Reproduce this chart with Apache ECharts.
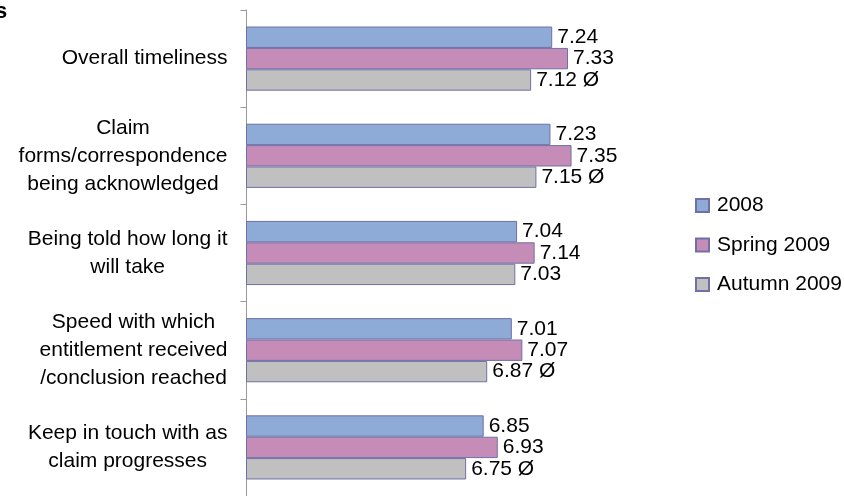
<!DOCTYPE html>
<html>
<head>
<meta charset="utf-8">
<script src="https://cdn.jsdelivr.net/npm/echarts@6/dist/echarts.min.js"></script>
<style>
html,body{margin:0;padding:0;background:#fff;}
#chart{width:844px;height:496px;}
</style>
</head>
<body>
<div id="chart"></div>
<script>
var categories = [
  'Overall timeliness',
  'Claim\nforms/correspondence\nbeing acknowledged',
  'Being told how long it\nwill take',
  'Speed with which\nentitlement received\n/conclusion reached',
  'Keep in touch with as\nclaim progresses'
];
var seriesNames = ['2008', 'Spring 2009', 'Autumn 2009'];
var values2008 = [7.24, 7.23, 7.04, 7.01, 6.85];
var valuesSpring2009 = [7.33, 7.35, 7.14, 7.07, 6.93];
var valuesAutumn2009 = [7.12, 7.15, 7.03, 6.87, 6.75];
var autumnMarks = ['Ø', 'Ø', '', 'Ø', 'Ø'];
var titleFragment = 's';

var FONT = '"Liberation Sans", Arial, sans-serif';
var colors = ['#8eabd8', '#c58cb8', '#c0c0c0'];
var border = '#7070a6';

function labelCfg(marks) {
  return {
    show: true,
    position: 'right',
    distance: 5,
    color: '#000',
    fontSize: 21,
    fontFamily: FONT,
    formatter: function (p) {
      var t = p.value.toFixed(2);
      if (marks && marks[p.dataIndex]) t += ' ' + marks[p.dataIndex];
      return t;
    }
  };
}

var allValues = [values2008, valuesSpring2009, valuesAutumn2009];
var series = allValues.map(function (vals, i) {
  return {
    name: seriesNames[i],
    type: 'bar',
    data: vals,
    barGap: '0%',
    barCategoryGap: '34%',
    itemStyle: { color: colors[i], borderColor: border, borderWidth: 1 },
    label: labelCfg(i === 2 ? autumnMarks : null),
    emphasis: { disabled: true },
    animation: false
  };
});

var chart = echarts.init(document.getElementById('chart'), null, { renderer: 'canvas' });
chart.setOption({
  animation: false,
  textStyle: { fontFamily: FONT },
  title: {
    text: titleFragment,
    left: -5,
    top: 1,
    padding: 0,
    textStyle: { fontSize: 22, fontWeight: 'bold', color: '#000', fontFamily: FONT }
  },
  grid: { left: 246.5, top: 10, width: 351.4, height: 492, containLabel: false },
  xAxis: {
    type: 'value',
    min: 5.5,
    max: 7.5,
    show: false
  },
  yAxis: {
    type: 'category',
    data: categories,
    inverse: true,
    axisLine: { show: true, lineStyle: { color: '#999', width: 1 } },
    axisTick: { show: true, length: 6, lineStyle: { color: '#999' } },
    axisLabel: {
      margin: 19,
      color: '#000',
      fontSize: 21,
      fontFamily: FONT,
      lineHeight: 28,
      align: 'right',
      formatter: function (v) {
        return v.split('\n').map(function (l) { return '{c|' + l + '}'; }).join('\n');
      },
      rich: {
        c: { align: 'center', fontSize: 21, lineHeight: 28, color: '#000', fontFamily: FONT }
      }
    }
  },
  legend: {
    orient: 'vertical',
    left: 695,
    top: 195,
    padding: 0,
    itemWidth: 13,
    itemHeight: 13,
    itemGap: 18.5,
    icon: 'rect',
    selectedMode: false,
    textStyle: { fontSize: 21, color: '#000', fontFamily: FONT, padding: [0, 0, 0, 3] },
    data: seriesNames
  },
  series: series
});
</script>
</body>
</html>
